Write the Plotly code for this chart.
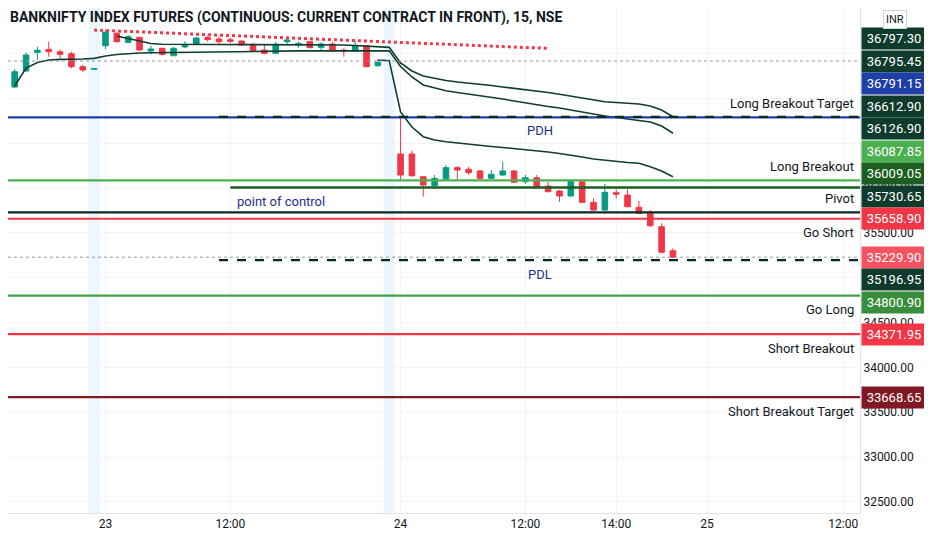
import pandas as pd
import plotly.graph_objects as go

# 15 min bars, session slots (the 09:00 pre-open slot sits between days)
bar_time = (
    [f"22 {t:%H:%M}" for t in pd.date_range("13:30", "15:15", freq="15min")]
    + ["23 09:00"]
    + [f"23 {t:%H:%M}" for t in pd.date_range("09:15", "15:15", freq="15min")]
    + ["24 09:00"]
    + [f"24 {t:%H:%M}" for t in pd.date_range("09:15", "15:15", freq="15min")]
)

o = [37084, 37129, 37308, 37516, 37550, 37523, 37501, 37356, 37328,
     37590, 37728, 37628, 37684, 37531, 37561, 37478, 37576, 37606, 37682, 37665,
     37657, 37642, 37606, 37542, 37505, 37635, 37598, 37635, 37572, 37609, 37542,
     37531, 37590, 37367, None,
     36381, 36381, 36128, 36028, 36102, 36229, 36211, 36192, 36110, 36147, 36192,
     36072, 36117, 36024, 35969, 35913, 36072, 35842, 35756, 35950, 35924, 35787,
     35720, 35570, 35302]
h = [37140, 37330, 37516, 37579, 37635, 37550, 37523, 37375, 37335,
     37765, 37740, 37709, 37690, 37590, 37568, 37576, 37642, 37687, 37704, 37690,
     37679, 37654, 37617, 37598, 37635, 37679, 37635, 37642, 37628, 37628, 37561,
     37642, 37598, 37430, None,
     36783, 36418, 36136, 36147, 36259, 36248, 36240, 36203, 36203, 36296, 36203,
     36147, 36147, 36072, 35980, 36091, 36083, 35887, 36047, 35987, 35987, 35860,
     35756, 35608, 35329]
l = [37073, 37118, 37300, 37430, 37467, 37449, 37338, 37293, 37328,
     37553, 37628, 37617, 37534, 37494, 37478, 37478, 37561, 37606, 37635, 37606,
     37620, 37590, 37523, 37494, 37494, 37606, 37561, 37561, 37531, 37523, 37467,
     37523, 37356, 37356, None,
     36099, 36128, 35905, 36017, 36091, 36091, 36147, 36099, 36099, 36139, 36061,
     36047, 36010, 35954, 35849, 35905, 35838, 35749, 35749, 35887, 35787, 35712,
     35570, 35284, 35224]
c = [37121, 37300, 37486, 37539, 37523, 37494, 37356, 37319, 37335,
     37740, 37635, 37690, 37542, 37553, 37494, 37561, 37606, 37676, 37659, 37635,
     37639, 37598, 37531, 37505, 37606, 37654, 37617, 37568, 37609, 37534, 37531,
     37590, 37356, 37405, None,
     36147, 36139, 36035, 36110, 36229, 36203, 36173, 36110, 36155, 36192, 36066,
     36117, 36017, 35961, 35913, 36072, 35842, 35756, 35954, 35932, 35793, 35720,
     35581, 35284, 35229.90]

# three band curves
upper_band = [None] * 10 + [
    37698, 37670, 37637, 37615, 37606, 37606, 37606, 37605, 37604, 37604,
    37603, 37603, 37602, 37602, 37601, 37600, 37600, 37599, 37599, 37598,
    37598, 37592, 37587, 37581, 37572,
    37397, 37308, 37252, 37224, 37202, 37185, 37174, 37163, 37146, 37129,
    37115, 37101, 37088, 37068, 37048, 37029, 37006, 36984, 36965, 36956,
    36945, 36939, 36917, 36872, 36797.30]
lower_band = [None] + [
    37140, 37341, 37403, 37431, 37438, 37438, 37442, 37449, 37475, 37492,
    37503, 37509, 37512, 37514, 37516, 37520, 37520, 37522, 37524, 37525,
    37526, 37528, 37528, 37530, 37531, 37532, 37533, 37534, 37535, 37536,
    37536, 37536, 37535, 37534,
    37358, 37241, 37152, 37118, 37088, 37068, 37051, 37029, 37012, 36995,
    36973, 36951, 36928, 36912, 36895, 36872, 36850, 36828, 36806, 36789,
    36772, 36761, 36739, 36694, 36612.90]
mid_band = [None] * 33 + [
    37430, 37423,
    36850, 36683, 36575, 36538, 36519, 36504, 36493, 36482, 36465, 36454,
    36443, 36432, 36420, 36404, 36387, 36370, 36348, 36326, 36311, 36298,
    36287, 36278, 36240, 36192, 36126.90]

# horizontal levels: name, value, colour, label side
levels = [
    ("Long Breakout Target", 36791.15, "#1e3ea8", "above"),
    ("Long Breakout", 36087.85, "#4caf50", "above"),
    ("Pivot", 35730.65, "#0b2a1f", "above"),
    ("Go Short", 35658.90, "#f23645", "below"),
    ("Go Long", 34800.90, "#43a047", "below"),
    ("Short Breakout", 34371.95, "#f23645", "below"),
    ("Short Breakout Target", 33668.65, "#801922", "below"),
]
pdh = 36795.45
pdl = 35196.95
poc = 36009.05
prev_close = 37419
last_price = 35229.90
trend_x = [8, 48]
trend_y = [37765, 37560]

# right-axis price tags
price_tags = [
    (36797.30, "#0f3b2d"), (pdh, "#0f3b2d"), (36791.15, "#1e3ea8"),
    (36612.90, "#0f3b2d"), (36126.90, "#0f3b2d"), (36087.85, "#4caf50"),
    (poc, "#1b5e20"), (35730.65, "#0f3b2d"), (35658.90, "#f23645"),
    (last_price, "#f7525f"), (pdl, "#0f3b2d"), (34800.90, "#388e3c"),
    (34371.95, "#f23645"), (33668.65, "#801922"),
]

tick_pos = [9, 20, 35, 46, 54, 62, 74]
tick_txt = ["23", "12:00", "24", "12:00", "14:00", "25", "12:00"]
price_ticks = list(range(32500, 38001, 500))

# the page body adds an 8px offset, so the figure is 8px smaller
W, H = 924, 542
PLOT_H = 505
Y_MIN, Y_MAX = 32375, 38011
X_MIN, X_MAX = 0.41, 75.48
FONT = "Roboto"
TXT = "#131722"


def to_px(v):
    return (Y_MAX - v) / (Y_MAX - Y_MIN) * PLOT_H


x = list(range(len(bar_time)))

fig = go.Figure()

# pre-open session shading
for i, t in enumerate(bar_time):
    if t.endswith("09:00"):
        fig.add_vrect(x0=i - 0.5, x1=i + 0.5, fillcolor="#e3f2fd", opacity=0.7,
                      line_width=0, layer="below")

fig.add_hline(y=prev_close, line=dict(color="#9598a1", width=1, dash="dot"))
fig.add_hline(y=last_price, line=dict(color="#9598a1", width=1, dash="dot"))

for name, v, col, side in levels:
    fig.add_hline(y=v, line=dict(color=col, width=2.2))
    fig.add_annotation(x=1, xref="paper", y=v, yref="y", text=name,
                       showarrow=False, xanchor="right", xshift=-4,
                       yshift=14 if side == "above" else -14,
                       font=dict(family=FONT, size=13, color=TXT))

fig.add_shape(type="line", x0=19, x1=X_MAX, y0=pdh, y1=pdh, xref="x", yref="y",
              line=dict(color="#0b2a1f", width=2.2, dash="dash"))
fig.add_shape(type="line", x0=19, x1=X_MAX, y0=pdl, y1=pdl, xref="x", yref="y",
              line=dict(color="#0b2a1f", width=2.2, dash="dash"))
fig.add_shape(type="line", x0=20, x1=X_MAX, y0=poc, y1=poc, xref="x", yref="y",
              line=dict(color="#1b5e20", width=2.5))

for txt, xx, v, anchor in [("PDH", 47.3, pdh, "center"), ("PDL", 47.3, pdl, "center"),
                           ("point of control", 20.4, poc, "left")]:
    fig.add_annotation(x=xx, y=v, text=txt, showarrow=False, xanchor=anchor,
                       yshift=-14, font=dict(family=FONT, size=13, color="#1e2e8c"))

fig.add_trace(go.Scatter(x=trend_x, y=trend_y, mode="lines",
                         line=dict(color="#f23645", width=3, dash="dot"),
                         hoverinfo="skip"))

for band in (upper_band, lower_band, mid_band):
    fig.add_trace(go.Scatter(x=x, y=band, mode="lines", connectgaps=False,
                             line=dict(color="#0f3d2e", width=1.6), hoverinfo="skip"))

fig.add_trace(go.Candlestick(
    x=x, open=o, high=h, low=l, close=c, text=bar_time,
    increasing=dict(line=dict(color="#089981", width=1), fillcolor="#089981"),
    decreasing=dict(line=dict(color="#f23645", width=1), fillcolor="#f23645"),
    whiskerwidth=0,
))

# price tags stacked so they do not overlap, anchored on last price
TAG_H = 22.5
tags = sorted(price_tags, key=lambda t: -t[0])
true_px = [to_px(v) for v, _ in tags]
pos = list(true_px)
k = [v for v, _ in tags].index(last_price)
for i in range(k - 1, -1, -1):
    pos[i] = min(pos[i], pos[i + 1] - TAG_H)
for i in range(k + 1, len(tags)):
    pos[i] = max(pos[i], pos[i - 1] + TAG_H)
for (v, col), tp, pp in zip(tags, true_px, pos):
    fig.add_annotation(x=1, xref="paper", y=v, yref="y", text=f"{v:.2f}",
                       showarrow=False, xanchor="left", xshift=1,
                       yshift=tp - pp, bgcolor=col, width=62, height=19,
                       borderpad=1, font=dict(family=FONT, size=13, color="white"))

# axis prices hidden where a tag sits on top of them
price_tick_txt = [
    "" if any(abs(to_px(t) - p) < 8 for p in pos) else f"{t:.2f}"
    for t in price_ticks
]

fig.add_annotation(x=0, xref="paper", y=1 - 9 / PLOT_H, yref="paper",
                   text="BANKNIFTY INDEX FUTURES (CONTINUOUS: CURRENT CONTRACT IN FRONT), 15, NSE",
                   showarrow=False, xanchor="left", yanchor="middle",
                   font=dict(family=FONT, size=14, color=TXT, weight="bold"))
fig.add_annotation(x=1, xref="paper", xshift=23, xanchor="left",
                   y=1 - 11 / PLOT_H, yref="paper", yanchor="middle",
                   text="INR", showarrow=False,
                   bgcolor="white", bordercolor="#d1d4dc", borderwidth=1, borderpad=2,
                   font=dict(family=FONT, size=11, color=TXT))

fig.update_layout(
    width=W, height=H,
    margin=dict(l=0, r=72, t=0, b=H - PLOT_H),
    paper_bgcolor="white", plot_bgcolor="white",
    showlegend=False,
    xaxis=dict(range=[X_MIN, X_MAX], tickvals=tick_pos, ticktext=tick_txt,
               showgrid=True, gridcolor="#f2f4f8", zeroline=False,
               showline=True, linecolor="#e0e3eb", ticks="",
               rangeslider=dict(visible=False),
               tickfont=dict(family=FONT, size=12, color=TXT)),
    yaxis=dict(range=[Y_MIN, Y_MAX], side="right", tickvals=price_ticks,
               ticktext=price_tick_txt, showgrid=True, gridcolor="#f2f4f8",
               zeroline=False, showline=True, linecolor="#e0e3eb", ticks="",
               tickfont=dict(family=FONT, size=12, color=TXT)),
)

fig.write_html("out.html")
